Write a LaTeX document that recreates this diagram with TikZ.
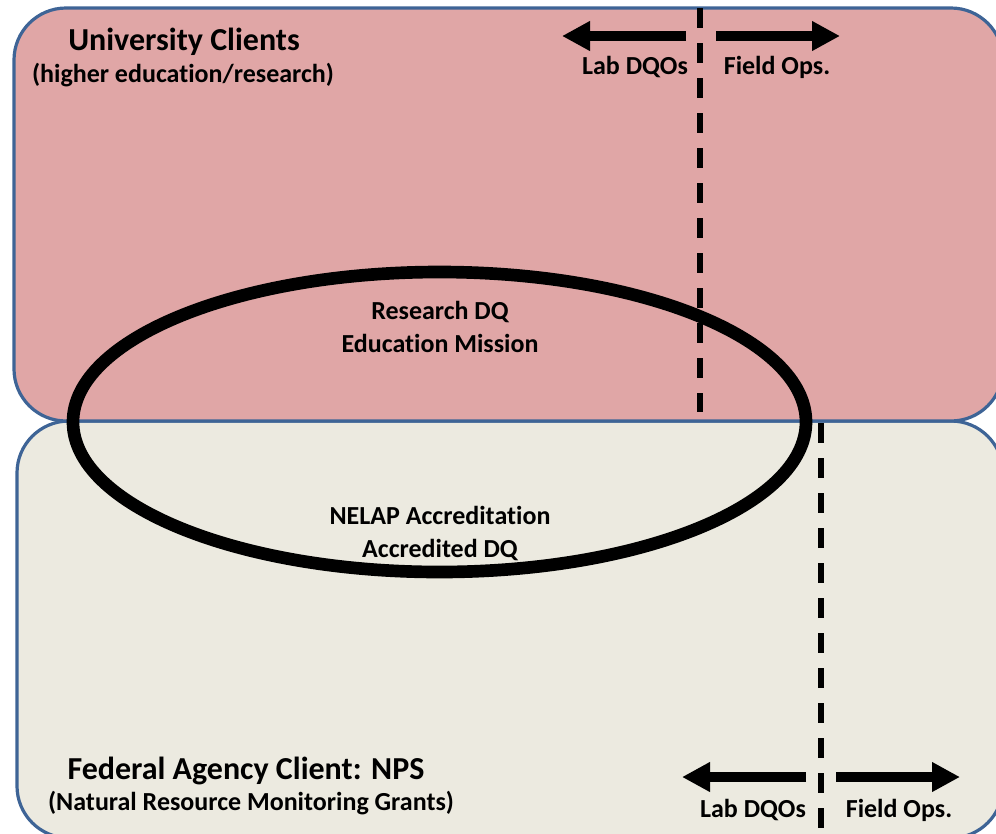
\documentclass[tikz,border=0pt]{standalone}
\usepackage{fontspec}
\setmainfont{Carlito}[Ligatures=NoCommon]
\usetikzlibrary{arrows.meta}
\definecolor{uniFill}{RGB}{224,166,166}
\definecolor{fedFill}{RGB}{236,234,224}
\definecolor{edgeBlue}{RGB}{62,100,150}
\tikzset{
  region/.style={draw=edgeBlue, line width=2.4pt, rounded corners=39pt},
  bigtitle/.style={anchor=base, font=\bfseries\fontsize{24}{28}\selectfont, inner sep=0pt},
  subtitle/.style={anchor=base, font=\bfseries\fontsize{19.5}{23}\selectfont, inner sep=0pt},
  label/.style={anchor=base, font=\bfseries\fontsize{19.5}{23}\selectfont, inner sep=0pt},
  divider/.style={line width=3.8pt, dash pattern=on 15pt off 11.25pt},
  bigarrow/.style={line width=7.5pt, -{Triangle[length=21pt 0, width=21pt 0]}},
  ring/.style={line width=9.5pt}
}
\begin{document}
\begin{tikzpicture}[x=0.75pt, y=-0.75pt]
\useasboundingbox (0,0) rectangle (996,833);
\clip (0,0) rectangle (996,833);
% regions
\draw[region, fill=fedFill] (17,421) rectangle (1003,838);
\draw[region, fill=uniFill] (14,8) rectangle (1003,421);
% ellipse
\coordinate (ec) at (439.5,422);
\draw[ring] (ec) ellipse [x radius=366.5, y radius=150];
% texts
\node[bigtitle] (uc) at (184,50) {University Clients};
\node[subtitle] (ucs) at (183,82) {(higher education/research)};
\node[label] (r1) at (440,319) {Research DQ};
\node[label] (r2) at (440,352) {Education Mission};
\node[label] (n1) at (440,524) {NELAP Accreditation};
\node[label] (n2) at (440,557) {Accredited DQ};
\node[bigtitle] (fa) at (246,779) {Federal Agency Client: NPS};
\node[subtitle] (fas) at (251,810) {(Natural Resource Monitoring Grants)};
% top divider and arrows
\coordinate (td1) at (700,8);
\coordinate (td2) at (700,412);
\draw[divider] (td1) -- (td2);
\coordinate (ta0) at (686,36);
\coordinate (ta1) at (562,36);
\coordinate (ta2) at (716,36);
\coordinate (ta3) at (840,36);
\draw[bigarrow] (ta0) -- (ta1);
\draw[bigarrow] (ta2) -- (ta3);
\node[label] (tl) at (635,74) {Lab DQOs};
\node[label] (tf) at (777,74) {Field Ops.};
% bottom divider and arrows
\coordinate (bd1) at (821,423);
\coordinate (bd2) at (821,833);
\draw[divider] (bd1) -- (bd2);
\coordinate (ba0) at (806,777);
\coordinate (ba1) at (682,777);
\coordinate (ba2) at (836,777);
\coordinate (ba3) at (960,777);
\draw[bigarrow] (ba0) -- (ba1);
\draw[bigarrow] (ba2) -- (ba3);
\node[label] (bl) at (753,817) {Lab DQOs};
\node[label] (bf) at (899,817) {Field Ops.};
\end{tikzpicture}
\end{document}
